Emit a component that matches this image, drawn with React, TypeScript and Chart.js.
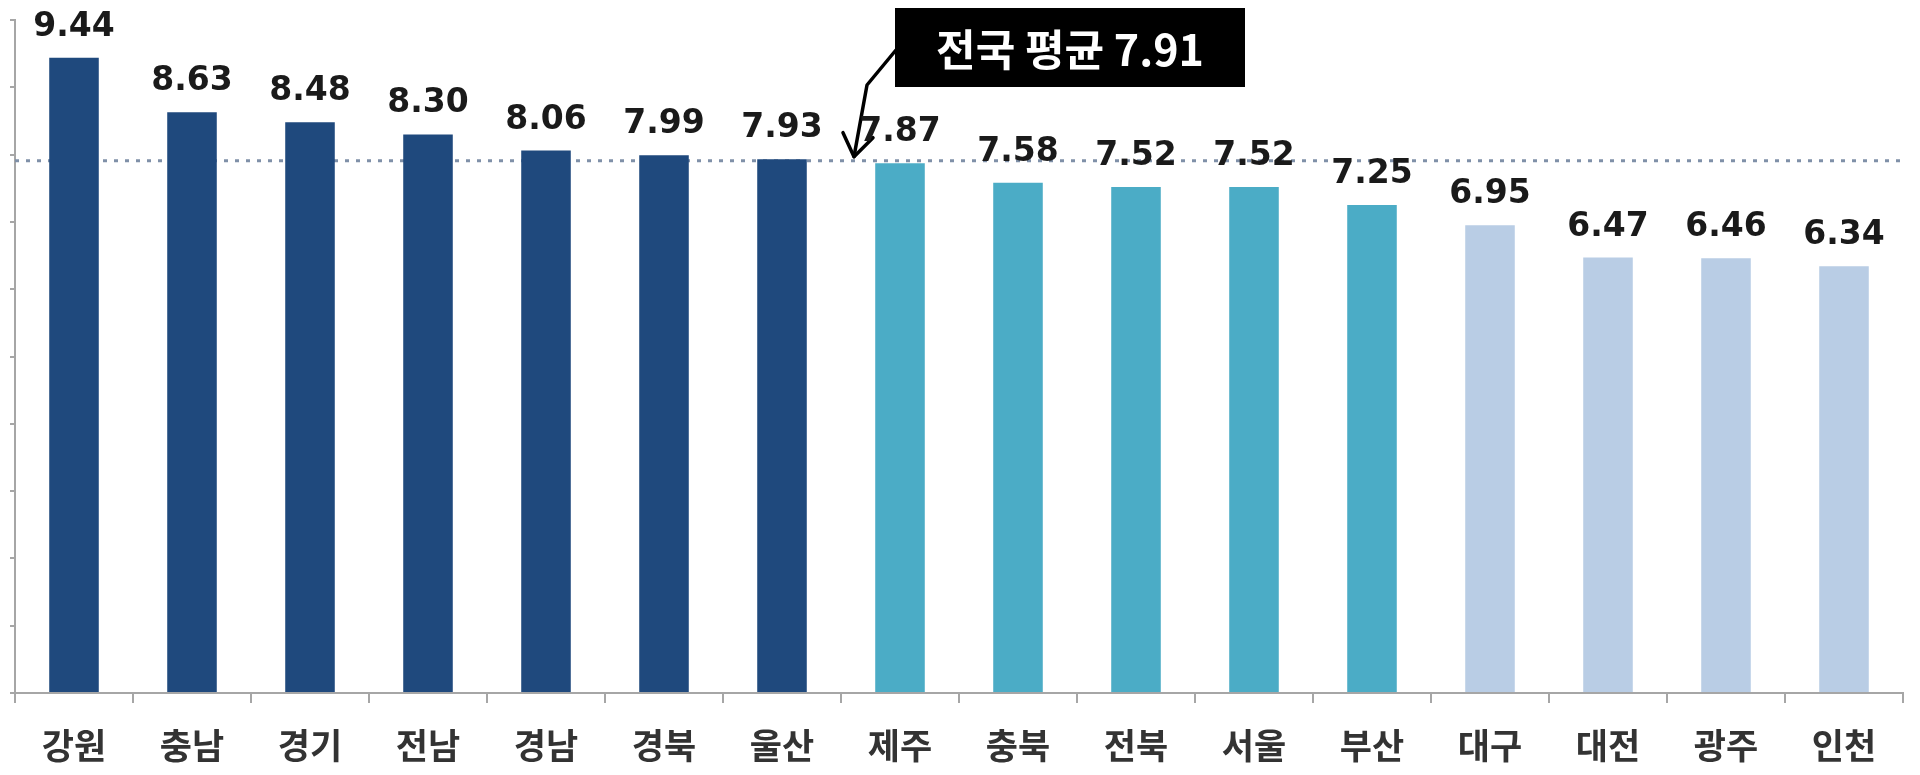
import React, { useEffect, useRef } from 'react';
import Chart from 'chart.js/auto';

// === Data ===
const REGIONS = ['강원', '충남', '경기', '전남', '경남', '경북', '울산', '제주', '충북', '전북', '서울', '부산', '대구', '대전', '광주', '인천'];
const SCORES = [9.44, 8.63, 8.48, 8.3, 8.06, 7.99, 7.93, 7.87, 7.58, 7.52, 7.52, 7.25, 6.95, 6.47, 6.46, 6.34];
const GROUPS = [0, 0, 0, 0, 0, 0, 0, 1, 1, 1, 1, 1, 2, 2, 2, 2];
const NATIONAL_AVG = 7.91;
const AVG_LABEL = '전국 평균 7.91';

const GROUP_COLORS = ['#1F497D', '#4BACC6', '#B9CDE5'];
const AXIS_COLOR = '#A6A6A6';

const KR_FONT = '"Noto Sans CJK KR", "Noto Sans", sans-serif';
const NUM_FONT = '"DejaVu Sans", Verdana, sans-serif';

// === Plugin: value labels above bars ===
const valueLabels = {
  id: 'valueLabels',
  afterDatasetsDraw(chart: any) {
    const { ctx } = chart;
    const meta = chart.getDatasetMeta(0);
    ctx.save();
    ctx.font = `bold 33px ${NUM_FONT}`;
    ctx.fillStyle = '#1a1a1a';
    ctx.textAlign = 'center';
    ctx.textBaseline = 'alphabetic';
    meta.data.forEach((bar: any, i: number) => {
      ctx.fillText(SCORES[i].toFixed(2), bar.x, bar.y - 22);
    });
    ctx.restore();
  },
};

// === Plugin: national average line + callout ===
const avgLine = {
  id: 'avgLine',
  beforeDatasetsDraw(chart: any) {
    const { ctx, chartArea, scales } = chart;
    const y = scales.y.getPixelForValue(NATIONAL_AVG);
    ctx.save();
    ctx.strokeStyle = '#7F90A8';
    ctx.lineWidth = 3;
    ctx.setLineDash([4, 7]);
    ctx.beginPath();
    ctx.moveTo(chartArea.left, y);
    ctx.lineTo(chartArea.right, y);
    ctx.stroke();
    ctx.restore();
  },
  afterDatasetsDraw(chart: any) {
    const { ctx, scales } = chart;
    const yLine = scales.y.getPixelForValue(NATIONAL_AVG);
    const gap = scales.x.getPixelForValue(6.5); // between 울산 and 제주

    // callout box
    const boxLeft = gap + 54;
    const boxTop = 8;
    const boxW = 350;
    const boxH = 79;
    ctx.save();
    ctx.fillStyle = '#000';
    ctx.fillRect(boxLeft, boxTop, boxW, boxH);
    ctx.fillStyle = '#fff';
    ctx.font = `bold 43px ${KR_FONT}`;
    ctx.textAlign = 'center';
    ctx.textBaseline = 'middle';
    ctx.fillText(AVG_LABEL, boxLeft + boxW / 2, boxTop + boxH / 2 + 2);

    // arrow
    const tipX = gap + 13;
    const tipY = yLine - 4;
    ctx.strokeStyle = '#000';
    ctx.lineWidth = 3.5;
    ctx.lineJoin = 'round';
    ctx.lineCap = 'round';
    ctx.beginPath();
    ctx.moveTo(boxLeft + 1, boxTop + 42);
    ctx.lineTo(gap + 26, boxTop + 77);
    ctx.lineTo(tipX, tipY);
    ctx.stroke();
    ctx.beginPath();
    ctx.moveTo(tipX - 11, tipY - 24);
    ctx.lineTo(tipX, tipY);
    ctx.lineTo(tipX + 19, tipY - 19);
    ctx.stroke();
    ctx.restore();
  },
};

const App: React.FC = () => {
  const canvasRef = useRef<HTMLCanvasElement>(null);

  useEffect(() => {
    document.body.style.margin = '0';
    if (!canvasRef.current) return;

    const chart = new Chart(canvasRef.current, {
      type: 'bar',
      data: {
        labels: REGIONS,
        datasets: [
          {
            data: SCORES,
            backgroundColor: GROUPS.map(g => GROUP_COLORS[g]),
            borderWidth: 0,
            barPercentage: 0.42,
            categoryPercentage: 1,
          },
        ],
      },
      options: {
        animation: false,
        responsive: true,
        maintainAspectRatio: false,
        layout: { padding: { left: 10, right: 17, top: 20, bottom: 10 } },
        plugins: {
          legend: { display: false },
          tooltip: { enabled: false },
        },
        scales: {
          x: {
            offset: true,
            afterFit: (scale: any) => {
              scale.height = 72;
            },
            grid: {
              offset: true,
              drawOnChartArea: false,
              drawTicks: true,
              tickLength: 10,
              color: AXIS_COLOR,
              lineWidth: 2,
            },
            border: { color: AXIS_COLOR, width: 2 },
            ticks: {
              color: '#333',
              padding: 22,
              font: { family: KR_FONT, size: 35, weight: 'bold' },
            },
          },
          y: {
            min: 0,
            max: 10,
            ticks: { display: false, stepSize: 1 },
            grid: {
              drawOnChartArea: false,
              drawTicks: true,
              tickLength: 5,
              color: AXIS_COLOR,
              lineWidth: 2,
            },
            border: { color: AXIS_COLOR, width: 2 },
          },
        },
      },
      plugins: [avgLine, valueLabels],
    });

    return () => chart.destroy();
  }, []);

  return (
    <div style={{ position: 'relative', width: 1920, height: 775, background: '#fff' }}>
      <canvas ref={canvasRef} />
    </div>
  );
};

export default App;
